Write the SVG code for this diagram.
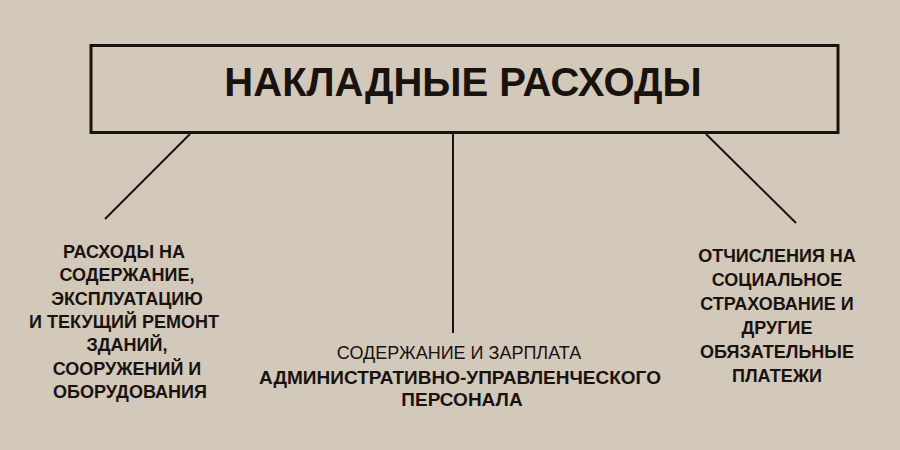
<svg xmlns="http://www.w3.org/2000/svg" width="900" height="450" viewBox="0 0 900 450">
<style>
.t{font-family:"Liberation Sans","DejaVu Sans",sans-serif;fill:#1a120d;text-anchor:middle}
.b{font-weight:bold}
.ln{stroke:#1a120d;stroke-width:2;fill:none}
</style>
<rect width="900" height="450" fill="#d3c9ba"/>
<g id="connectors">
<line class="ln" x1="190" y1="134" x2="105" y2="219"/>
<line class="ln" x1="453" y1="134" x2="453" y2="333"/>
<line class="ln" x1="706" y1="134" x2="796" y2="223"/>
</g>
<g id="root">
<rect x="91" y="45.5" width="747" height="87" fill="none" stroke="#1a120d" stroke-width="3"/>
<text class="t b" x="463" y="96" font-size="40">НАКЛАДНЫЕ РАСХОДЫ</text>
</g>
<g id="left" font-size="18">
<text class="t b" x="124" y="258">РАСХОДЫ НА</text>
<text class="t b" x="127" y="281">СОДЕРЖАНИЕ,</text>
<text class="t b" x="127" y="305">ЭКСПЛУАТАЦИЮ</text>
<text class="t b" x="124" y="328">И ТЕКУЩИЙ РЕМОНТ</text>
<text class="t b" x="127" y="351">ЗДАНИЙ,</text>
<text class="t b" x="127" y="375">СООРУЖЕНИЙ И</text>
<text class="t b" x="130" y="398">ОБОРУДОВАНИЯ</text>
</g>
<g id="middle">
<text class="t" x="459" y="359" font-size="18">СОДЕРЖАНИЕ И ЗАРПЛАТА</text>
<text class="t b" x="460" y="384" font-size="19">АДМИНИСТРАТИВНО-УПРАВЛЕНЧЕСКОГО</text>
<text class="t b" x="462" y="406" font-size="19">ПЕРСОНАЛА</text>
</g>
<g id="right" font-size="18">
<text class="t b" x="777" y="262">ОТЧИСЛЕНИЯ НА</text>
<text class="t b" x="777" y="286">СОЦИАЛЬНОЕ</text>
<text class="t b" x="777" y="310">СТРАХОВАНИЕ И</text>
<text class="t b" x="777" y="334">ДРУГИЕ</text>
<text class="t b" x="777" y="358">ОБЯЗАТЕЛЬНЫЕ</text>
<text class="t b" x="777" y="382">ПЛАТЕЖИ</text>
</g>
</svg>
